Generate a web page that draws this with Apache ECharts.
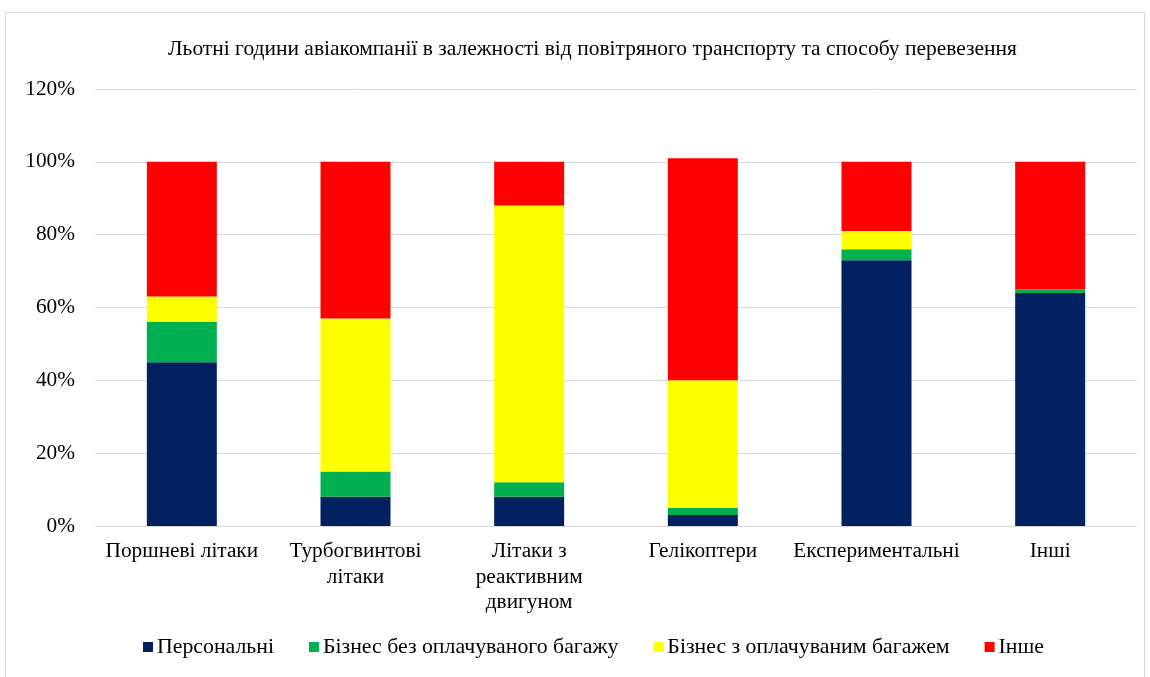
<!DOCTYPE html>
<html>
<head>
<meta charset="utf-8">
<script src="https://cdn.jsdelivr.net/npm/echarts@6/dist/echarts.min.js"></script>
<style>
html,body{margin:0;padding:0;background:#fff;}
#frame{position:absolute;left:5px;top:12px;width:1140px;height:670px;border:1px solid #d9d9d9;box-sizing:border-box;}
#main{position:absolute;left:0;top:0;width:1150px;height:677px;}
</style>
</head>
<body>
<div id="frame"></div>
<div id="main"></div>
<script>
var categories = ['Поршневі літаки', 'Турбогвинтові\nлітаки', 'Літаки з\nреактивним\nдвигуном', 'Гелікоптери', 'Експериментальні', 'Інші'];
var personal = [45, 8, 8, 3, 73, 64];
var bizNoBag = [11, 7, 4, 2, 3, 1];
var bizBag = [7, 42, 76, 35, 5, 0];
var other = [37, 43, 12, 61, 19, 35];
var seriesNames = ['Персональні', 'Бізнес без оплачуваного багажу', 'Бізнес з оплачуваним багажем', 'Інше'];
var seriesColors = ['#002060', '#00b050', '#ffff00', '#ff0000'];

var font = '"Liberation Serif", "Times New Roman", serif';
var chart = echarts.init(document.getElementById('main'));
var option = {
	textStyle: {fontFamily: font},
	title: {
		text: 'Льотні години авіакомпанії в залежності від повітряного транспорту та способу перевезення',
		left: 163,
		top: 33,
		textStyle: {fontFamily: font, fontSize: 21.5, fontWeight: 'normal', color: '#000'}
	},
	legend: {
		bottom: 14,
		left: 138,
		itemWidth: 10,
		itemHeight: 10,
		itemGap: 35,
		icon: 'rect',
		data: seriesNames,
		textStyle: {fontFamily: font, fontSize: 21.8, color: '#000', padding: [0, 0, 0, -1]}
	},
	grid: {left: 95, right: 13, top: 89, bottom: 151, containLabel: false},
	xAxis: {
		type: 'category',
		data: categories,
		axisLine: {lineStyle: {color: '#d9d9d9', width: 1}},
		axisTick: {show: false},
		axisLabel: {fontFamily: font, fontSize: 21.3, color: '#000', margin: 13, lineHeight: 25.5, interval: 0}
	},
	yAxis: {
		type: 'value',
		min: 0,
		max: 120,
		interval: 20,
		axisLine: {show: false},
		axisTick: {show: false},
		splitLine: {lineStyle: {color: '#d9d9d9', width: 1}},
		axisLabel: {fontFamily: font, fontSize: 21.3, color: '#000', margin: 20, formatter: '{value}%'}
	},
	series: [personal, bizNoBag, bizBag, other].map(function (d, i) {
		return {
			name: seriesNames[i],
			type: 'bar',
			stack: 'total',
			barWidth: 70,
			data: d,
			itemStyle: {color: seriesColors[i]}
		};
	})
};
chart.setOption(option);
</script>
</body>
</html>
